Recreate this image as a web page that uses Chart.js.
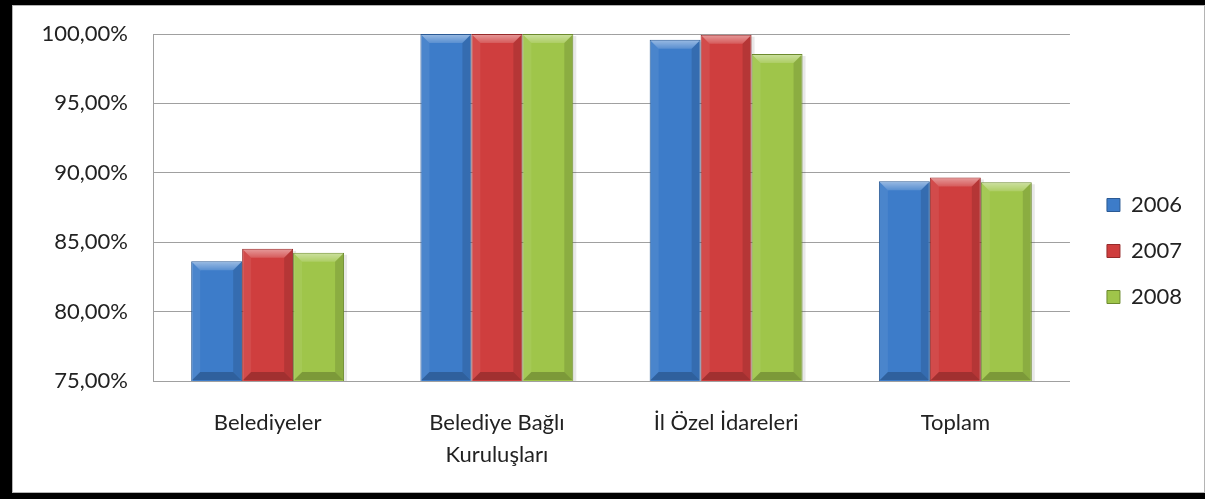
<!DOCTYPE html>
<html>
<head>
<meta charset="utf-8">
<script src="https://cdn.jsdelivr.net/npm/chart.js@4"></script>
<style>
    body { margin: 0; background: #000; width: 1205px; height: 499px; overflow: hidden; }
    .frame {
        position: absolute; left: 12px; top: 5px; width: 1193px; height: 488px;
        box-sizing: border-box; border: 1px solid #b4b4b4; background: #fff;
    }
    .box { position: relative; width: 1191px; height: 486px; }
</style>
</head>
<body>
<div class="frame"><div class="box"><canvas id="chart-1"></canvas></div></div>
<script>
// data
var categories = ["Belediyeler", ["Belediye Bağlı", "Kuruluşları"], "İl Özel İdareleri", "Toplam"];
var years = ["2006", "2007", "2008"];
var values_2006 = [83.63, 100, 99.59, 89.40];
var values_2007 = [84.52, 100, 99.95, 89.66];
var values_2008 = [84.24, 100, 98.56, 89.32];
var yTicks = [75, 80, 85, 90, 95, 100];

var fillColors = ["#3d7cc9", "#cf3e3e", "#9fc54a"];
var edgeColors = ["#2b5a94", "#962b2b", "#6c8a2e"];

Chart.defaults.font.family = "Lato, 'Open Sans', sans-serif";
Chart.defaults.color = "#222";

// bevel look of the excel bars, drawn over each bar element
function eachBar(chart, fn) {
    let bottom = chart.chartArea.bottom;
    chart.data.datasets.forEach((ds, i) => {
        chart.getDatasetMeta(i).data.forEach(bar => {
            let p = bar.getProps(["x", "y", "base", "width"], true);
            fn(p.x - p.width / 2, p.x + p.width / 2, p.y, Math.min(p.base, bottom));
        });
    });
}

var bevel = {
    id: "bevel",
    beforeDatasetsDraw(chart) {
        let ctx = chart.ctx;
        ctx.save();
        ctx.fillStyle = "rgba(0,0,0,0.09)";
        eachBar(chart, (l, r, t, b) => ctx.fillRect(l + 3, t + 2, r - l, b - t - 2));
        ctx.restore();
    },
    afterDatasetsDraw(chart) {
        let ctx = chart.ctx;
        ctx.save();
        eachBar(chart, (l, r, t, b) => {
            l += 1; r -= 1; t += 1; b -= 1;
            let d = Math.min(8, (b - t) / 2);
            let shape = (pts, color) => {
                ctx.beginPath();
                ctx.moveTo(pts[0][0], pts[0][1]);
                pts.slice(1).forEach(q => ctx.lineTo(q[0], q[1]));
                ctx.closePath();
                ctx.fillStyle = color;
                ctx.fill();
            };
            let g = ctx.createLinearGradient(0, t, 0, t + d);
            g.addColorStop(0, "rgba(255,255,255,0.45)");
            g.addColorStop(1, "rgba(255,255,255,0.15)");
            shape([[l, t], [r, t], [r - d, t + d], [l + d, t + d]], g);
            shape([[l, t], [l + d, t + d], [l + d, b - d], [l, b]], "rgba(255,255,255,0.07)");
            shape([[r, t], [r - d, t + d], [r - d, b - d], [r, b]], "rgba(0,0,0,0.12)");
            shape([[l, b], [l + d, b - d], [r - d, b - d], [r, b]], "rgba(0,0,0,0.22)");
        });
        ctx.restore();
    },
    afterLayout(chart) {
        // excel keeps a small gap between plot and legend
        chart.legend.left += 13;
        chart.legend.right += 13;
    }
};

var ctx_1 = document.getElementById("chart-1");
var myChart = new Chart(ctx_1, {
    type: "bar",
    data: {
        labels: categories,
        datasets: [
            { label: years[0], data: values_2006, backgroundColor: fillColors[0], borderColor: edgeColors[0], borderWidth: 1 },
            { label: years[1], data: values_2007, backgroundColor: fillColors[1], borderColor: edgeColors[1], borderWidth: 1 },
            { label: years[2], data: values_2008, backgroundColor: fillColors[2], borderColor: edgeColors[2], borderWidth: 1 }
        ]
    },
    options: {
        responsive: true,
        maintainAspectRatio: false,
        animation: false,
        layout: {
            padding: { top: 28, bottom: 24, left: 0, right: 25 }
        },
        datasets: {
            bar: { categoryPercentage: 0.667, barPercentage: 1 }
        },
        plugins: {
            legend: {
                position: "right",
                labels: {
                    boxWidth: 13,
                    boxHeight: 13,
                    padding: 24,
                    font: { size: 22 },
                    color: "#222"
                }
            },
            tooltip: { enabled: false }
        },
        scales: {
            x: {
                grid: { display: false, drawTicks: false },
                border: { color: "#a0a0a0", width: 1 },
                ticks: { padding: 26, font: { size: 22, lineHeight: 1.45 }, maxRotation: 0 },
                afterFit(scale) { scale.height = 87; }
            },
            y: {
                min: 75,
                max: 100,
                afterBuildTicks(scale) { scale.ticks = yTicks.map(v => ({ value: v })); },
                grid: { color: "#a0a0a0", drawTicks: false },
                border: { color: "#a0a0a0", width: 1 },
                ticks: {
                    padding: 25,
                    font: { size: 22 },
                    callback: v => v.toFixed(2).replace(".", ",") + "%"
                },
                afterFit(scale) {
                    scale.width = 140;
                    scale.paddingTop = 12;
                    scale.paddingBottom = 12;
                }
            }
        }
    },
    plugins: [bevel]
});
</script>
</body>
</html>
